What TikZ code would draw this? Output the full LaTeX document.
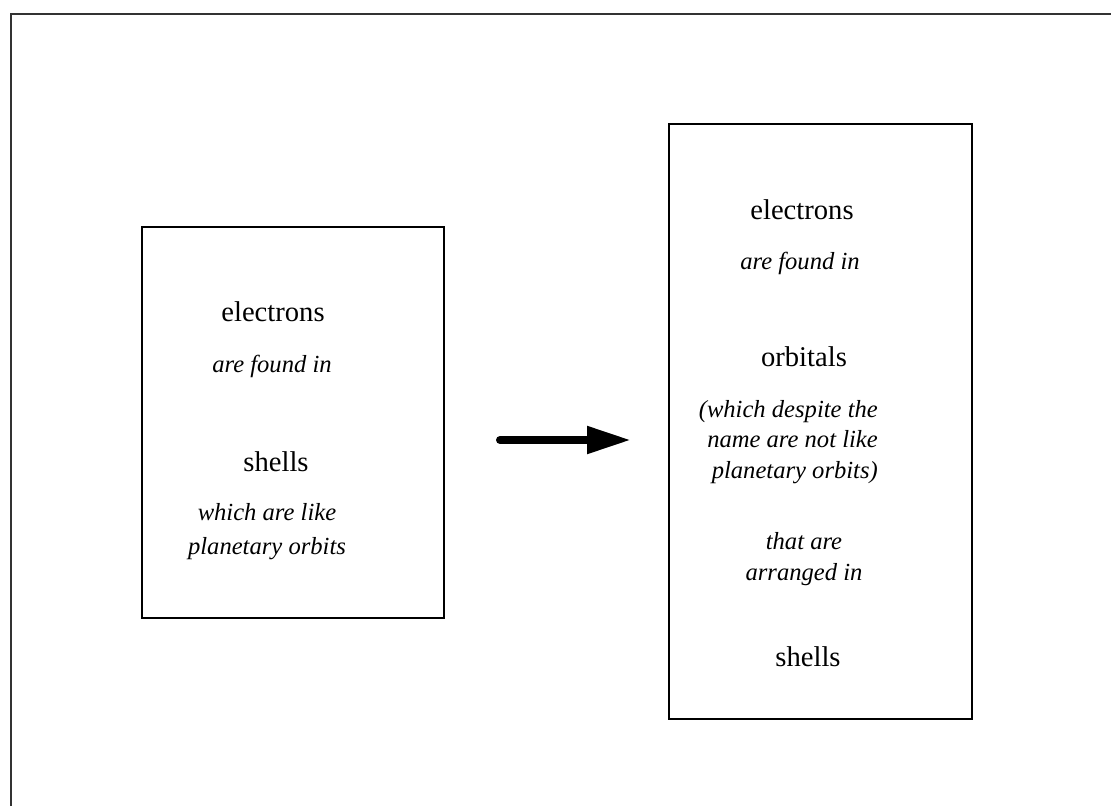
\documentclass[tikz,border=0pt]{standalone}
\usepackage{fontspec}
\setmainfont{Liberation Serif}
\usetikzlibrary{arrows.meta}
\begin{document}
\begin{tikzpicture}[x=1pt,y=-1pt,
  panel/.style={draw=black,line width=1.6pt},
  term/.style={font=\fontsize{28.6}{32}\selectfont,inner sep=0pt},
  link/.style={font=\itshape\fontsize{24.6}{30}\selectfont,inner sep=0pt,align=center},
  bigarrow/.style={line width=8pt,line cap=round,-{Triangle[length=44pt 0 0,width=26pt 0 0]}}]
  % page area
  \useasboundingbox (0,0) rectangle (1111,806);
  \fill[white] (0,0) rectangle (1111,806);
  % outer frame (top and left edges)
  \draw[line width=2pt,black!80] (11,806) -- (11,14) -- (1111,14);

  % left panel: the shell model
  \draw[panel] (142,227) rectangle (444,618);
  \node[term] (le) at (273,312) {electrons};
  \node[link] (lf) at (272,366) {are found in};
  \node[term] (ls) at (276,462) {shells};
  \node[link] (ll) at (267,532) {which are like\\[4pt]planetary orbits};

  % right panel: the orbital model
  \draw[panel] (669,124) rectangle (972,719);
  \node[term] (re) at (802,210) {electrons};
  \node[link] (rf) at (800,263) {are found in};
  \node[term] (ro) at (804,357) {orbitals};
  \node[link,align=right,anchor=east] (rw) at (878,442) {(which despite the\\[0.5pt]name are not like\\[0.5pt]planetary orbits)};
  \node[link] (ra) at (804,559) {that are\\[1pt]arranged in};
  \node[term] (rs) at (808,657) {shells};

  % transition arrow
  \coordinate (from) at (500,440);
  \coordinate (to) at (631,440);
  \draw[bigarrow] (from) -- (to);
\end{tikzpicture}
\end{document}
